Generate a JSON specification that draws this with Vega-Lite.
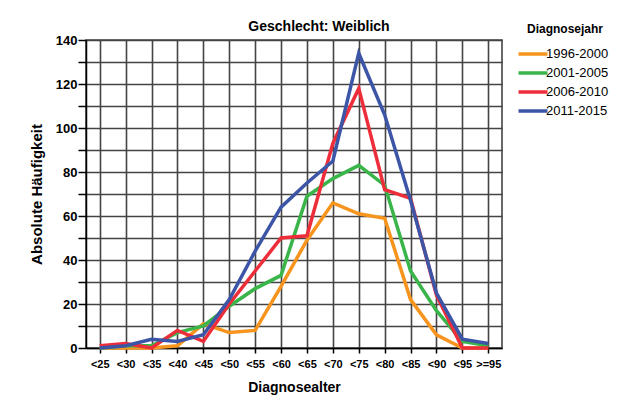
{
  "$schema": "https://vega.github.io/schema/vega-lite/v6.json",
  "width": 416,
  "height": 308,
  "autosize": {"type": "none"},
  "padding": {"left": 86, "top": 40, "right": 126, "bottom": 71},
  "background": "white",
  "title": {
    "text": "Geschlecht: Weiblich",
    "font": "Liberation Sans",
    "fontSize": 14,
    "fontWeight": "bold",
    "color": "black",
    "anchor": "middle",
    "dx": 25,
    "offset": -10
  },
  "datasets": {
    "counts": [
      {"alter": "<25", "jahr": "1996-2000", "n": 0},
      {"alter": "<30", "jahr": "1996-2000", "n": 0},
      {"alter": "<35", "jahr": "1996-2000", "n": 0},
      {"alter": "<40", "jahr": "1996-2000", "n": 1},
      {"alter": "<45", "jahr": "1996-2000", "n": 11},
      {"alter": "<50", "jahr": "1996-2000", "n": 7},
      {"alter": "<55", "jahr": "1996-2000", "n": 8},
      {"alter": "<60", "jahr": "1996-2000", "n": 28},
      {"alter": "<65", "jahr": "1996-2000", "n": 49},
      {"alter": "<70", "jahr": "1996-2000", "n": 66},
      {"alter": "<75", "jahr": "1996-2000", "n": 61},
      {"alter": "<80", "jahr": "1996-2000", "n": 59},
      {"alter": "<85", "jahr": "1996-2000", "n": 22},
      {"alter": "<90", "jahr": "1996-2000", "n": 6},
      {"alter": "<95", "jahr": "1996-2000", "n": 0},
      {"alter": ">=95", "jahr": "1996-2000", "n": 0},
      {"alter": "<25", "jahr": "2001-2005", "n": 0},
      {"alter": "<30", "jahr": "2001-2005", "n": 1},
      {"alter": "<35", "jahr": "2001-2005", "n": 1},
      {"alter": "<40", "jahr": "2001-2005", "n": 7},
      {"alter": "<45", "jahr": "2001-2005", "n": 10},
      {"alter": "<50", "jahr": "2001-2005", "n": 19},
      {"alter": "<55", "jahr": "2001-2005", "n": 27},
      {"alter": "<60", "jahr": "2001-2005", "n": 33},
      {"alter": "<65", "jahr": "2001-2005", "n": 69},
      {"alter": "<70", "jahr": "2001-2005", "n": 77},
      {"alter": "<75", "jahr": "2001-2005", "n": 83},
      {"alter": "<80", "jahr": "2001-2005", "n": 74},
      {"alter": "<85", "jahr": "2001-2005", "n": 35},
      {"alter": "<90", "jahr": "2001-2005", "n": 17},
      {"alter": "<95", "jahr": "2001-2005", "n": 3},
      {"alter": ">=95", "jahr": "2001-2005", "n": 1},
      {"alter": "<25", "jahr": "2006-2010", "n": 1},
      {"alter": "<30", "jahr": "2006-2010", "n": 2},
      {"alter": "<35", "jahr": "2006-2010", "n": 0},
      {"alter": "<40", "jahr": "2006-2010", "n": 8},
      {"alter": "<45", "jahr": "2006-2010", "n": 3},
      {"alter": "<50", "jahr": "2006-2010", "n": 20},
      {"alter": "<55", "jahr": "2006-2010", "n": 35},
      {"alter": "<60", "jahr": "2006-2010", "n": 50},
      {"alter": "<65", "jahr": "2006-2010", "n": 51},
      {"alter": "<70", "jahr": "2006-2010", "n": 93},
      {"alter": "<75", "jahr": "2006-2010", "n": 118},
      {"alter": "<80", "jahr": "2006-2010", "n": 72},
      {"alter": "<85", "jahr": "2006-2010", "n": 68},
      {"alter": "<90", "jahr": "2006-2010", "n": 24},
      {"alter": "<95", "jahr": "2006-2010", "n": 0},
      {"alter": ">=95", "jahr": "2006-2010", "n": 0},
      {"alter": "<25", "jahr": "2011-2015", "n": 0},
      {"alter": "<30", "jahr": "2011-2015", "n": 1},
      {"alter": "<35", "jahr": "2011-2015", "n": 4},
      {"alter": "<40", "jahr": "2011-2015", "n": 3},
      {"alter": "<45", "jahr": "2011-2015", "n": 6},
      {"alter": "<50", "jahr": "2011-2015", "n": 22},
      {"alter": "<55", "jahr": "2011-2015", "n": 44},
      {"alter": "<60", "jahr": "2011-2015", "n": 64},
      {"alter": "<65", "jahr": "2011-2015", "n": 75},
      {"alter": "<70", "jahr": "2011-2015", "n": 85},
      {"alter": "<75", "jahr": "2011-2015", "n": 134},
      {"alter": "<80", "jahr": "2011-2015", "n": 106},
      {"alter": "<85", "jahr": "2011-2015", "n": 67},
      {"alter": "<90", "jahr": "2011-2015", "n": 25},
      {"alter": "<95", "jahr": "2011-2015", "n": 4},
      {"alter": ">=95", "jahr": "2011-2015", "n": 2}
    ]
  },
  "data": {"name": "counts"},
  "mark": {"type": "line", "strokeWidth": 3.5, "strokeJoin": "miter"},
  "encoding": {
    "x": {
      "field": "alter",
      "type": "ordinal",
      "sort": ["<25", "<30", "<35", "<40", "<45", "<50", "<55", "<60", "<65", "<70", "<75", "<80", "<85", "<90", "<95", ">=95"],
      "scale": {"type": "point", "padding": 0.53},
      "title": "Diagnosealter",
      "axis": {
        "labelAngle": 0,
        "labelFont": "Liberation Sans",
        "labelFontSize": 11,
        "labelFontWeight": "bold",
        "labelColor": "black",
        "labelPadding": 5,
        "tickSize": 5,
        "tickColor": "black",
        "tickWidth": 1.5,
        "domainColor": "black",
        "domainWidth": 1.5,
        "grid": true,
        "gridColor": "#444",
        "gridWidth": 1.6,
        "titleFont": "Liberation Sans",
        "titleFontSize": 14,
        "titleFontWeight": "bold",
        "titleColor": "black",
        "titlePadding": 11
      }
    },
    "y": {
      "field": "n",
      "type": "quantitative",
      "scale": {"domain": [0, 140], "nice": false},
      "title": "Absolute Häufigkeit",
      "axis": {
        "values": [0, 10, 20, 30, 40, 50, 60, 70, 80, 90, 100, 110, 120, 130, 140],
        "labelExpr": "datum.value % 20 == 0 ? datum.label : ''",
        "labelFont": "Liberation Sans",
        "labelFontSize": 13,
        "labelFontWeight": "bold",
        "labelColor": "black",
        "labelPadding": 1,
        "tickSize": 8,
        "tickColor": "black",
        "tickWidth": 1.5,
        "domainColor": "black",
        "domainWidth": 1.5,
        "grid": true,
        "gridColor": "#444",
        "gridWidth": 1.6,
        "titleFont": "Liberation Sans",
        "titleFontSize": 15,
        "titleFontWeight": "bold",
        "titleColor": "black",
        "titlePadding": 11
      }
    },
    "color": {
      "field": "jahr",
      "type": "nominal",
      "scale": {
        "domain": ["1996-2000", "2001-2005", "2006-2010", "2011-2015"],
        "range": ["#F7941D", "#39B54A", "#EE2D3A", "#3D55A6"]
      },
      "legend": {
        "title": "Diagnosejahr",
        "orient": "none",
        "legendX": 435,
        "legendY": -16,
        "titleFont": "Liberation Sans",
        "titleFontSize": 12,
        "titleFontWeight": "bold",
        "titleColor": "black",
        "titleAnchor": "middle",
        "titlePadding": 6,
        "labelFont": "Liberation Sans",
        "labelFontSize": 13,
        "labelColor": "black",
        "labelOffset": 1,
        "symbolType": "M-1.45,0H1.45",
        "symbolSize": 400,
        "symbolStrokeWidth": 3.5,
        "rowPadding": -3
      }
    }
  },
  "config": {
    "view": {"stroke": "#444", "strokeWidth": 1.6}
  }
}
